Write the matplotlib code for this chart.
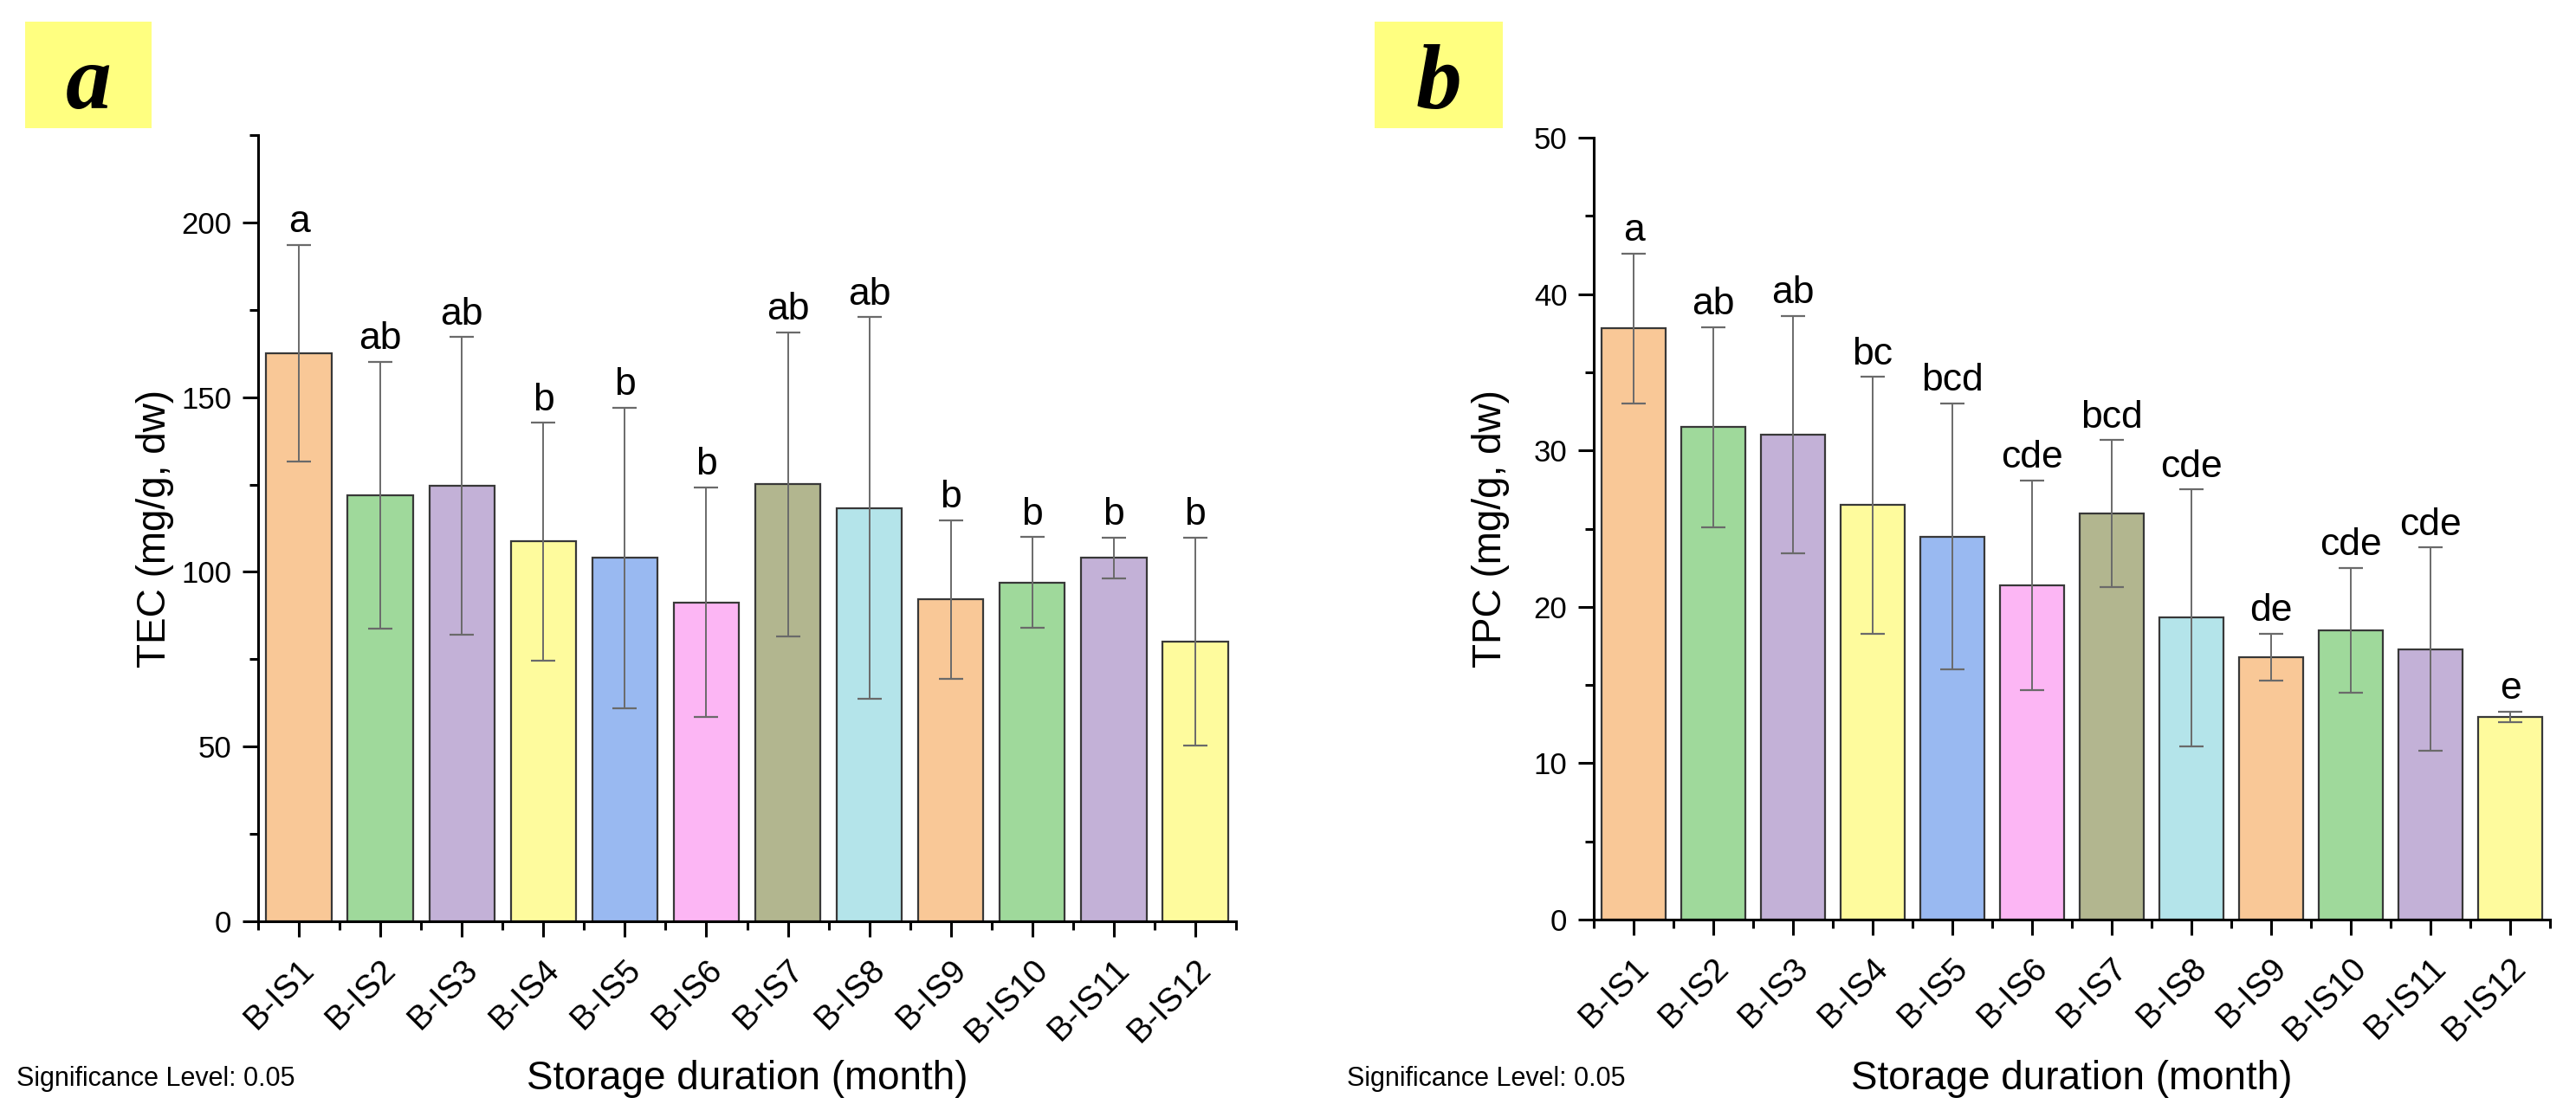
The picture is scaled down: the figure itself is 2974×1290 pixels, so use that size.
import matplotlib
matplotlib.use("Agg")
import matplotlib.pyplot as plt
import numpy as np
from matplotlib.ticker import MultipleLocator, FixedLocator

plt.rcParams['font.family'] = ['Liberation Sans', 'DejaVu Sans']

categories = ["B-IS1", "B-IS2", "B-IS3", "B-IS4", "B-IS5", "B-IS6",
              "B-IS7", "B-IS8", "B-IS9", "B-IS10", "B-IS11", "B-IS12"]

tec_mean = [162.6, 121.9, 124.6, 108.7, 104.0, 91.3, 125.1, 118.3, 92.1, 96.9, 104.0, 80.0]
tec_err = [31.0, 38.2, 42.6, 34.0, 43.0, 32.9, 43.5, 54.6, 22.7, 13.0, 5.8, 29.8]
tec_letters = ["a", "ab", "ab", "b", "b", "b", "ab", "ab", "b", "b", "b", "b"]

tpc_mean = [37.8, 31.5, 31.0, 26.5, 24.5, 21.4, 25.95, 19.3, 16.8, 18.5, 17.3, 12.95]
tpc_err = [4.8, 6.4, 7.6, 8.2, 8.5, 6.7, 4.7, 8.2, 1.5, 4.0, 6.5, 0.35]
tpc_letters = ["a", "ab", "ab", "bc", "bcd", "cde", "bcd", "cde", "de", "cde", "cde", "e"]

bar_colors = ["#F9C897", "#9FD99B", "#C3B1D7", "#FEFB9D", "#99B9F1", "#FCB6F4",
              "#B2B68F", "#B4E4EA", "#F9C897", "#9FD99B", "#C3B1D7", "#FEFB9D"]

W, H = 2974, 1290
fig = plt.figure(figsize=(W / 100, H / 100), dpi=100)


def frac_box(x0, x1, ytop, ybot):
    return [x0 / W, 1 - ybot / H, (x1 - x0) / W, (ybot - ytop) / H]


def panel(rect, means, errs, letters, ymax, major, minor, ylabel,
          panel_letter, box_px, sig_x, ylabel_x):
    ax = fig.add_axes(rect)
    x = np.arange(1, len(categories) + 1)
    ax.bar(x, means, width=0.8, color=bar_colors, edgecolor="#383838",
           linewidth=1.6, zorder=2)
    ax.errorbar(x, means, yerr=errs, fmt="none", ecolor="#6a6a6a",
                elinewidth=1.4, capsize=10, capthick=1.6, zorder=3)
    for xi, m, e, lab in zip(x, means, errs, letters):
        ax.annotate(lab, (xi, m + e), xytext=(0, 4), textcoords="offset points",
                    ha="center", va="bottom", fontsize=32, color="black", zorder=4)
    ax.set_xlim(0.5, len(categories) + 0.5)
    ax.set_ylim(0, ymax)
    for s in ("top", "right"):
        ax.spines[s].set_visible(False)
    for s in ("left", "bottom"):
        ax.spines[s].set_linewidth(2.2)
        ax.spines[s].set_color("black")
    ax.yaxis.set_major_locator(MultipleLocator(major))
    ax.yaxis.set_minor_locator(MultipleLocator(minor))
    ax.xaxis.set_major_locator(FixedLocator(x))
    ax.xaxis.set_minor_locator(FixedLocator(np.arange(0.5, len(categories) + 1, 1.0)))
    ax.set_xticks(x)
    ax.set_xticklabels(categories, rotation=45, ha="right", va="top",
                       rotation_mode="anchor", fontsize=28)
    ax.tick_params(axis="both", which="major", direction="out", length=13,
                   width=2.2, labelsize=25, pad=9)
    ax.tick_params(axis="both", which="minor", direction="out", length=7, width=2.2)
    ax.tick_params(axis="x", which="major", pad=14, labelsize=28)
    ax.set_ylabel(ylabel, fontsize=33)
    ax.yaxis.set_label_coords(ylabel_x, 0.5)
    ax.yaxis.label.set_va("center")
    ax.set_xlabel("Storage duration (month)", fontsize=33)
    ax.xaxis.label.set_va("center")
    pos = ax.get_position()
    yl = (H - 1246) / H
    ax.xaxis.set_label_coords(0.5, (yl - pos.y0) / pos.height)
    fig.text(sig_x / W, yl, "Significance Level: 0.05", fontsize=22,
             ha="left", va="center")
    bx0, bx1, by0, by1 = box_px
    bax = fig.add_axes(frac_box(bx0, bx1, by0, by1))
    bax.set_facecolor("#FFFF80")
    bax.set_xticks([])
    bax.set_yticks([])
    for s in bax.spines.values():
        s.set_visible(False)
    bax.text(0.5, 0.19, panel_letter, fontsize=76, fontweight="bold",
             fontstyle="italic", family=["Liberation Serif", "DejaVu Serif"],
             ha="center", va="baseline", transform=bax.transAxes)
    return ax


panel(frac_box(298, 1427, 156, 1064), tec_mean, tec_err, tec_letters, 225, 50, 25,
      "TEC (mg/g, dw)", "a", (29, 175, 25, 148), 19, -0.105)
panel(frac_box(1840, 2944, 159, 1062), tpc_mean, tpc_err, tpc_letters, 50, 10, 5,
      "TPC (mg/g, dw)", "b", (1587, 1735, 25, 148), 1555, -0.108)

fig.savefig("out.png", dpi=100)
